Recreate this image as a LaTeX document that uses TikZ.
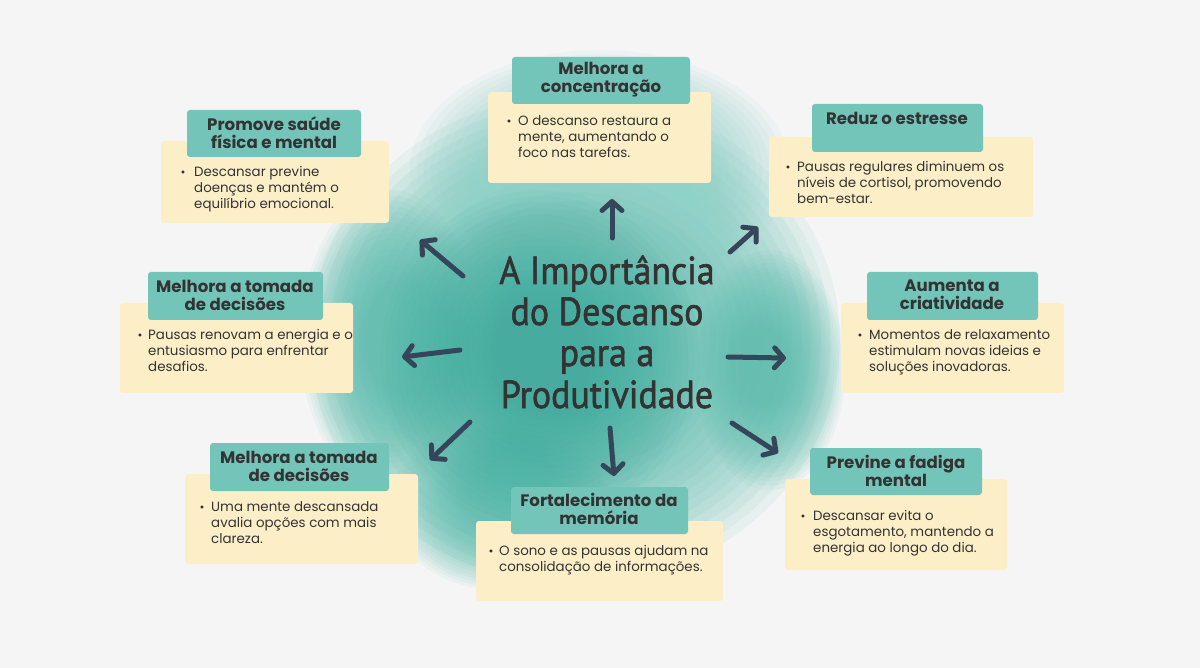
\documentclass[tikz,border=0pt]{standalone}
\usepackage{fontspec}
\setmainfont{Poppins}
\newfontfamily\titlefont[FakeBold=1.6]{PT Sans}
\usetikzlibrary{arrows.meta}
\definecolor{bgc}{HTML}{F5F5F5}
\definecolor{creamc}{HTML}{FCEFC8}
\definecolor{hdrc}{HTML}{73C4B9}
\definecolor{txt}{HTML}{333333}
\definecolor{arrc}{HTML}{36465A}
\definecolor{tealA}{HTML}{5DBEB0}
\definecolor{tealB}{HTML}{3AAC9D}
\definecolor{tealC}{HTML}{8ED2C8}
\newcommand\lns[1]{\begin{tabular}[t]{@{}l@{}}#1\end{tabular}}
\newcommand\softblob[6]{%
  \foreach \k in {0,...,19} {
    \pgfmathsetmacro\sc{1-\k*0.036}
    \fill[#5, fill opacity=#6] (#1,#2) ellipse [x radius=#3*\sc, y radius=#4*\sc];
  }}
\tikzset{
  cream/.style={fill=creamc, rounded corners=3pt},
  hdr/.style={fill=hdrc, rounded corners=3pt},
  htext/.style={font=\bfseries\fontsize{16.6}{18}\selectfont, text=txt, align=center, inner sep=0pt},
  btext/.style={font=\fontsize{13.4}{16}\selectfont, text=txt, anchor=base west, inner sep=0pt},
  bul/.style={font=\fontsize{12}{12}\selectfont, text=txt, anchor=base, inner sep=0pt},
  arr/.style={draw=arrc, line width=5pt, line cap=round, -{Straight Barb[length=9pt, width=20pt, round]}},
  ttl/.style={font=\titlefont\fontsize{39}{40}\selectfont, text=txt, anchor=base, inner sep=0pt}
}
\begin{document}
\begin{tikzpicture}[x=1pt,y=-1pt]
\useasboundingbox (0,0) rectangle (1200,668);
\fill[bgc] (0,0) rectangle (1200,668);
% watercolor blob
\softblob{575}{340}{265}{245}{tealA}{0.09}
\softblob{600}{170}{190}{120}{tealC}{0.08}
\softblob{390}{340}{90}{150}{tealA}{0.07}
\softblob{770}{370}{75}{120}{tealA}{0.07}
\softblob{500}{505}{110}{85}{tealA}{0.07}
\softblob{540}{360}{160}{170}{tealB}{0.05}
% arrows
\coordinate (a1s) at (463,276); \coordinate (a1e) at (420,240);
\coordinate (a2s) at (612,238); \coordinate (a2e) at (612,199);
\coordinate (a3s) at (730,252); \coordinate (a3e) at (758,227);
\coordinate (a4s) at (460,350); \coordinate (a4e) at (402,357);
\coordinate (a5s) at (728,357); \coordinate (a5e) at (786,358);
\coordinate (a6s) at (470,422); \coordinate (a6e) at (430,460);
\coordinate (a7s) at (610,428); \coordinate (a7e) at (614,476);
\coordinate (a8s) at (732,423); \coordinate (a8e) at (778,453);
\foreach \i in {1,...,8} {\draw[arr] (a\i s) -- (a\i e);}
% title
\node[ttl] (t1) at (607,284) {\scalebox{0.92}[1]{A Importância}};
\node[ttl] (t2) at (607,325) {\scalebox{0.92}[1]{do Descanso}};
\node[ttl] (t3) at (607,366) {\scalebox{0.92}[1]{para a}};
\node[ttl] (t4) at (607,408) {\scalebox{0.92}[1]{Produtividade}};
% box 1
\fill[cream] (161,141) rectangle (389,223);
\fill[hdr] (187,110) rectangle (361,157);
\node[htext] (h1) at (274,133) {Promove saúde\\física e mental};
\node[bul] (u1) at (183,177) {•};
\node[btext] (b1) at (194,177) {\lns{Descansar previne\\doenças e mantém o\\equilíbrio emocional.}};
% box 2
\fill[cream] (488,92) rectangle (711,183);
\fill[hdr] (512,57) rectangle (690,104);
\node[htext] (h2) at (601,80) {Melhora a\\concentração};
\node[bul] (u2) at (509,126) {•};
\node[btext] (b2) at (518,126) {\lns{O descanso restaura a\\mente, aumentando o\\foco nas tarefas.}};
% box 3
\fill[cream] (769,137) rectangle (1033,217);
\fill[hdr] (812,104) rectangle (983,152);
\node[htext] (h3) at (897,118) {Reduz o estresse};
\node[bul] (u3) at (788,172) {•};
\node[btext] (b3) at (797,172) {\lns{Pausas regulares diminuem os\\níveis de cortisol, promovendo\\bem-estar.}};
% box 4
\fill[cream] (120,303) rectangle (353,393);
\fill[hdr] (148,272) rectangle (323,320);
\node[htext] (h4) at (235,295) {Melhora a tomada\\de decisões};
\node[bul] (u4) at (140,340) {•};
\node[btext] (b4) at (148,340) {\lns{Pausas renovam a energia e o\\entusiasmo para enfrentar\\desafios.}};
% box 5
\fill[cream] (841,303) rectangle (1064,393);
\fill[hdr] (867,272) rectangle (1038,320);
\node[htext] (h5) at (952,295) {Aumenta a\\criatividade};
\node[bul] (u5) at (860,340) {•};
\node[btext] (b5) at (869,340) {\lns{Momentos de relaxamento\\estimulam novas ideias e\\soluções inovadoras.}};
% box 6
\fill[cream] (185,474) rectangle (418,564);
\fill[hdr] (210,443) rectangle (389,491);
\node[htext] (h6) at (299,466) {Melhora a tomada\\de decisões};
\node[bul] (u6) at (202,511) {•};
\node[btext] (b6) at (211,511) {\lns{Uma mente descansada\\avalia opções com mais\\clareza.}};
% box 7
\fill[cream] (476,521) rectangle (723,601);
\fill[hdr] (511,487) rectangle (688,534);
\node[htext] (h7) at (599,509) {Fortalecimento da\\memória};
\node[bul] (u7) at (491,555) {•};
\node[btext] (b7) at (499,555) {\lns{O sono e as pausas ajudam na\\consolidação de informações.}};
% box 8
\fill[cream] (785,479) rectangle (1007,570);
\fill[hdr] (810,448) rectangle (982,495);
\node[htext] (h8) at (896,471) {Previne a fadiga\\mental};
\node[bul] (u8) at (803,520) {•};
\node[btext] (b8) at (813,520) {\lns{Descansar evita o\\esgotamento, mantendo a\\energia ao longo do dia.}};
\end{tikzpicture}
\end{document}
